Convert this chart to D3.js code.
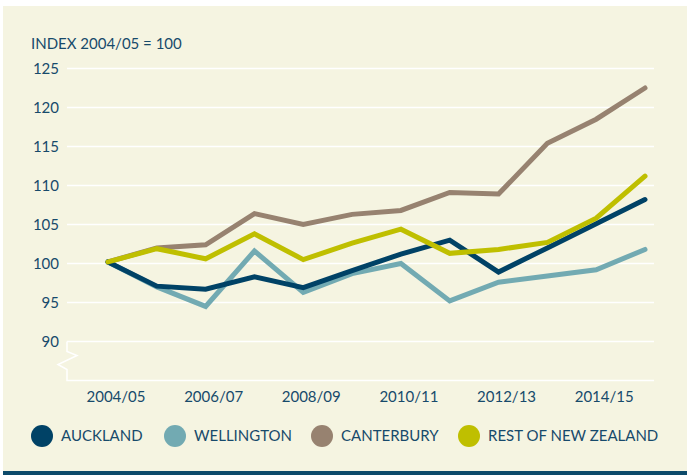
<!DOCTYPE html>
<html>
<head>
<meta charset="utf-8">
<script src="https://cdn.jsdelivr.net/npm/d3@7"></script>
<style>
  html, body { margin: 0; padding: 0; background: #fff; }
  svg { display: block; }
  text { font-family: Lato, "Open Sans", sans-serif; fill: #174a6b; }
</style>
</head>
<body>
<div id="chart"></div>
<script>
// ---------------- DATA ----------------
const years = ["2004/05", "2005/06", "2006/07", "2007/08", "2008/09", "2009/10",
               "2010/11", "2011/12", "2012/13", "2013/14", "2014/15", "2015/16"];
const tickYears = ["2004/05", "2006/07", "2008/09", "2010/11", "2012/13", "2014/15"];
const yTicks = [90, 95, 100, 105, 110, 115, 120, 125];

const auckland   = [100.2, 97.1, 96.7, 98.3, 96.9, 99.1, 101.2, 103.0, 98.9, 102.0, 105.1, 108.2];
const wellington = [100.2, 97.0, 94.5, 101.6, 96.3, 98.7, 100.0, 95.2, 97.6, 98.4, 99.2, 101.8];
const canterbury = [100.2, 102.0, 102.4, 106.4, 105.0, 106.3, 106.8, 109.1, 108.9, 115.4, 118.5, 122.5];
const restOfNZ   = [100.2, 101.9, 100.6, 103.8, 100.5, 102.6, 104.4, 101.3, 101.8, 102.7, 105.8, 111.2];

const series = [
  {name: "AUCKLAND", values: auckland, color: "#004266"},
  {name: "WELLINGTON", values: wellington, color: "#72aab2"},
  {name: "CANTERBURY", values: canterbury, color: "#978270"},
  {name: "REST OF NEW ZEALAND", values: restOfNZ, color: "#bfbf00"}
];
// drawing order: canterbury, rest, auckland, wellington on top?
const drawOrder = ["CANTERBURY", "WELLINGTON", "AUCKLAND", "REST OF NEW ZEALAND"];

// ---------------- LAYOUT ----------------
const width = 687, height = 475;
const plot = {left: 67, right: 654};

const svg = d3.select("#chart").append("svg")
  .attr("width", width)
  .attr("height", height);

// panel background
svg.append("rect")
  .attr("x", 3).attr("y", 6)
  .attr("width", width - 3).attr("height", 466)
  .attr("fill", "#f5f4e1");

// bottom bar
svg.append("rect")
  .attr("x", 3).attr("y", 471)
  .attr("width", width - 3).attr("height", 4)
  .attr("fill", "#0d4a6a");

const x = d3.scaleLinear()
  .domain([0, years.length - 1])
  .range([108, 645]);

const y = d3.scaleLinear()
  .domain([90, 125])
  .range([341.5, 68.5]);

// gridlines
svg.append("g")
  .selectAll("line")
  .data(yTicks)
  .join("line")
  .attr("x1", plot.left).attr("x2", plot.right)
  .attr("y1", d => y(d)).attr("y2", d => y(d))
  .attr("stroke", "#fff")
  .attr("stroke-width", 1.5);

// axis break box below 90
const yb = y(85);
const y90 = y(90);
svg.append("path")
  .attr("d", d3.line()([
    [plot.left, y90], [plot.left, y90 + 10], [plot.left + 10, y90 + 14],
    [plot.left - 9, y90 + 23], [plot.left, y90 + 28], [plot.left, yb], [plot.right, yb]
  ]))
  .attr("fill", "none")
  .attr("stroke", "#fff")
  .attr("stroke-width", 1.5);

// y labels
svg.append("g")
  .selectAll("text")
  .data(yTicks)
  .join("text")
  .attr("x", 59)
  .attr("y", d => y(d))
  .attr("dy", "0.35em")
  .attr("text-anchor", "end")
  .style("font-size", "15px")
  .text(d => d);

// axis title
svg.append("text")
  .attr("x", 31).attr("y", 49)
  .style("font-size", "15px")
  .text("INDEX 2004/05 = 100");

// x labels
svg.append("g")
  .selectAll("text")
  .data(tickYears)
  .join("text")
  .attr("x", d => x(years.indexOf(d)) + 8)
  .attr("y", 402)
  .attr("text-anchor", "middle")
  .style("font-size", "15px")
  .text(d => d);

// lines
const line = d3.line()
  .x((d, i) => x(i))
  .y(d => y(d));

svg.append("g")
  .selectAll("path")
  .data(drawOrder.map(n => series.find(s => s.name === n)))
  .join("path")
  .attr("d", d => line(d.values))
  .attr("fill", "none")
  .attr("stroke", d => d.color)
  .attr("stroke-width", 5)
  .attr("stroke-linecap", "round")
  .attr("stroke-linejoin", "miter");

// legend
const legendX = [42, 175, 322, 469];
const legend = svg.append("g")
  .selectAll("g")
  .data(series)
  .join("g")
  .attr("transform", (d, i) => `translate(${legendX[i]},436)`);

legend.append("circle")
  .attr("r", 11)
  .attr("fill", d => d.color);

legend.append("text")
  .attr("x", 19)
  .attr("dy", "0.36em")
  .style("font-size", "15px")
  .text(d => d.name);
</script>
</body>
</html>
